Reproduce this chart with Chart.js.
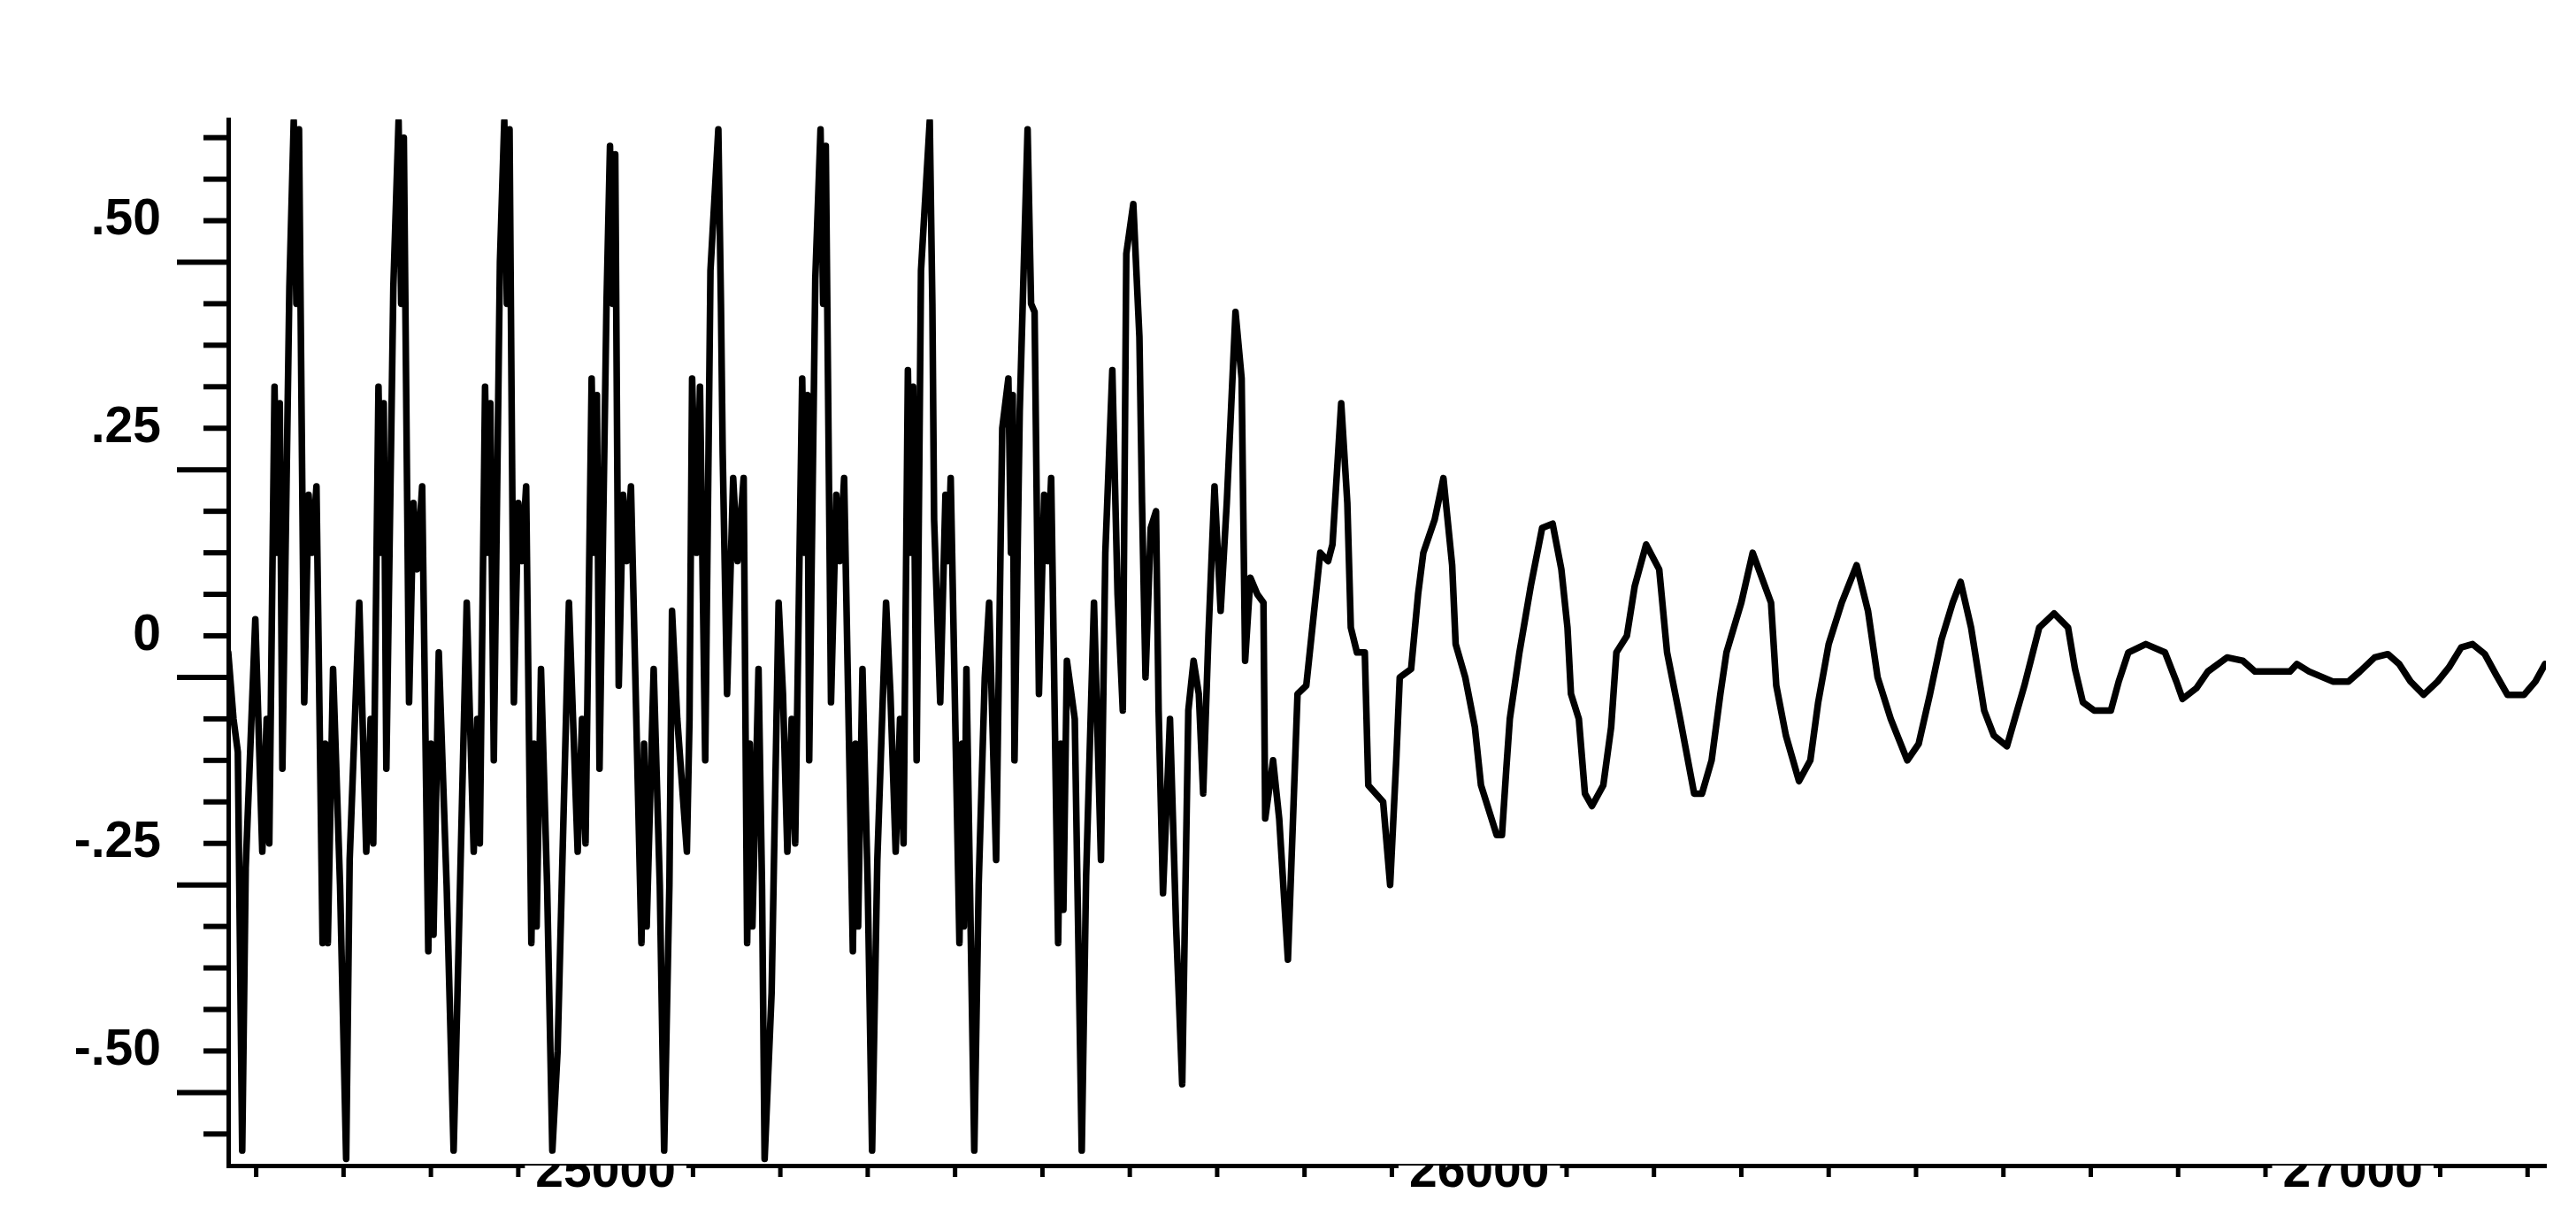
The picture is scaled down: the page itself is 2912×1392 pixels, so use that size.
<!DOCTYPE html>
<html>
<head>
<meta charset="utf-8">
<title>Waveform</title>
<script src="https://cdn.jsdelivr.net/npm/chart.js@4.4.0/dist/chart.umd.min.js"></script>
<style>
  html, body { margin: 0; padding: 0; background: #fff; }
  #wrap { width: 2912px; height: 1392px; }
</style>
</head>
<body>
<div id="wrap"><canvas id="waveChart"></canvas></div>
<script>
// Trace, split in pieces: time (x) and amplitude (y)
var earlyTime = [24568, 24574, 24579,
  24584, 24588, 24599, 24607, 24612, 24615, 24621, 24624, 24627, 24630, 24638, 24643, 24646, 24649, 24655, 24660, 24664, 24669, 24676, 24679, 24682, 24688, 24696,
  24703, 24707, 24718, 24726, 24731, 24734, 24740, 24743, 24746, 24749, 24757, 24763, 24766, 24769, 24775, 24780, 24784, 24790, 24797, 24800, 24803, 24809, 24818,
  24826, 24830, 24841, 24849, 24853, 24856, 24862, 24865, 24868, 24872, 24879, 24884, 24887, 24890, 24895, 24900, 24904, 24909, 24915, 24918, 24921, 24926, 24933,
  24939, 24945, 24958, 24968, 24973, 24977, 24984, 24987, 24990, 24993, 25001, 25005, 25008, 25011, 25015, 25020, 25024, 25029, 25041, 25044, 25047, 25055, 25062];
var earlyAmp = [0.03, -0.05, -0.09,
  -0.57, -0.23, 0.07, -0.21, -0.05, -0.20, 0.35, 0.15, 0.33, -0.11, 0.47, 0.67, 0.45, 0.66, -0.03, 0.22, 0.15, 0.23, -0.32, -0.08, -0.32, 0.01, -0.25,
  -0.58, -0.22, 0.09, -0.21, -0.05, -0.20, 0.35, 0.15, 0.33, -0.11, 0.47, 0.67, 0.45, 0.65, -0.03, 0.21, 0.13, 0.23, -0.33, -0.08, -0.31, 0.03, -0.25,
  -0.57, -0.40, 0.09, -0.21, -0.05, -0.20, 0.35, 0.15, 0.33, -0.10, 0.50, 0.67, 0.45, 0.66, -0.03, 0.21, 0.14, 0.23, -0.32, -0.08, -0.30, 0.01, -0.25,
  -0.57, -0.45, 0.09, -0.21, -0.05, -0.20, 0.36, 0.15, 0.34, -0.11, 0.45, 0.64, 0.45, 0.63, -0.01, 0.22, 0.14, 0.23, -0.32, -0.08, -0.30, 0.01, -0.25];

var midTime = [25067, 25073, 25076, 25082, 25093, 25096, 25099, 25104, 25108, 25114, 25120, 25129, 25132, 25134, 25139, 25146, 25151, 25158, 25162, 25165, 25168, 25175, 25179,
  25182, 25190, 25198, 25203, 25208, 25213, 25217, 25225, 25228, 25231, 25233, 25240, 25246, 25249, 25252, 25258, 25264, 25268, 25273, 25283, 25286, 25289, 25294, 25300,
  25305, 25311, 25321, 25326, 25332, 25337, 25341, 25346, 25349, 25352, 25356, 25361, 25371, 25374, 25376, 25383, 25389, 25392, 25395, 25405, 25408, 25410, 25413, 25417,
  25422, 25427, 25434, 25439, 25447, 25454, 25461, 25464, 25466, 25468, 25474, 25483, 25487, 25491, 25496, 25502, 25506, 25510, 25518, 25521, 25524, 25528, 25537];
var midAmp = [-0.57, -0.25, 0.08, -0.05, -0.21, -0.05, 0.36, 0.15, 0.35, -0.10, 0.49, 0.66, 0.45, 0.27, -0.02, 0.24, 0.14, 0.24, -0.32, -0.08, -0.30, 0.01, -0.25,
  -0.58, -0.38, 0.09, -0.02, -0.21, -0.05, -0.20, 0.36, 0.15, 0.34, -0.10, 0.48, 0.66, 0.45, 0.64, -0.03, 0.22, 0.14, 0.24, -0.33, -0.08, -0.30, 0.01, -0.25,
  -0.57, -0.22, 0.09, -0.02, -0.21, -0.05, -0.20, 0.37, 0.15, 0.35, -0.10, 0.49, 0.67, 0.45, 0.19, -0.03, 0.22, 0.14, 0.24, -0.32, -0.08, -0.30, 0.01, -0.25,
  -0.57, -0.25, 0.0, 0.09, -0.22, 0.30, 0.36, 0.15, 0.34, -0.10, 0.32, 0.66, 0.45, 0.44, -0.02, 0.22, 0.14, 0.24, -0.32, -0.08, -0.28, 0.02, -0.05];

var fadeTime = [25545, 25550, 25559, 25567, 25572, 25580, 25586, 25592, 25596, 25604, 25611, 25614, 25618, 25624, 25630, 25633, 25638, 25646, 25653,
  25660, 25667, 25673, 25679, 25684, 25690, 25697, 25704, 25711, 25721, 25728, 25732, 25738, 25746, 25753, 25755, 25764, 25771,
  25781, 25792, 25802, 25808, 25818, 25827, 25832, 25842, 25849, 25853, 25860, 25869, 25873, 25890];
var fadeAmp = [-0.57, -0.24, 0.09, -0.22, 0.15, 0.37, 0.10, -0.04, 0.51, 0.57, 0.41, 0.21, 0.0, 0.18, 0.20, -0.04, -0.26, -0.05, -0.30,
  -0.49, -0.04, 0.02, -0.02, -0.14, 0.05, 0.23, 0.08, 0.21, 0.44, 0.36, 0.02, 0.12, 0.10, 0.09, -0.17, -0.10, -0.17,
  -0.34, -0.02, -0.01, 0.05, 0.15, 0.14, 0.16, 0.33, 0.21, 0.06, 0.03, 0.03, -0.13, -0.15];

var decayTime = [25898, 25905, 25909, 25922, 25930, 25936, 25949, 25959, 25969, 25973, 25984, 25995, 26002, 26020, 26026, 26031, 26035, 26046, 26059, 26072,
  26084, 26094, 26101, 26105, 26114, 26121, 26129, 26142, 26151, 26157, 26169, 26178, 26191, 26206, 26215, 26230, 26246, 26255, 26266, 26276,
  26283, 26300, 26313, 26334, 26340, 26351, 26366, 26379, 26388, 26400, 26415, 26432, 26445, 26456, 26471, 26490, 26503, 26516, 26529, 26542];
var decayAmp = [-0.25, -0.10, 0.0, 0.01, 0.10, 0.15, 0.19, 0.24, 0.135, 0.04, 0.0, -0.06, -0.13, -0.19, -0.19, -0.11, -0.05, 0.03, 0.11, 0.18,
  0.185, 0.13, 0.06, -0.02, -0.05, -0.14, -0.155, -0.13, -0.06, 0.03, 0.05, 0.11, 0.16, 0.13, 0.03, -0.05, -0.14, -0.14, -0.10, -0.02,
  0.03, 0.09, 0.15, 0.09, -0.01, -0.07, -0.125, -0.10, -0.03, 0.04, 0.09, 0.135, 0.08, 0.0, -0.05, -0.10, -0.08, -0.02, 0.045, 0.09];

var tailTime = [26551, 26563, 26578, 26589, 26604, 26613, 26624, 26641, 26658, 26674, 26682, 26691, 26704, 26723, 26732, 26743, 26763, 26785, 26798, 26805, 26821, 26834, 26856,
  26874, 26888, 26928, 26936, 26950, 26977, 26995, 27008, 27025, 27040, 27053, 27066, 27081, 27097, 27110, 27124, 27137, 27151, 27164, 27177, 27196, 27209, 27220];
var tailAmp = [0.115, 0.06, -0.04, -0.07, -0.083, -0.05, -0.01, 0.06, 0.077, 0.06, 0.01, -0.03, -0.04, -0.04, -0.005, 0.03, 0.04, 0.03, -0.005, -0.026, -0.013, 0.007, 0.024,
  0.02, 0.007, 0.007, 0.016, 0.007, -0.005, -0.005, 0.007, 0.024, 0.028, 0.016, -0.005, -0.021, -0.005, 0.012, 0.036, 0.04, 0.028, 0.003, -0.021, -0.021, -0.005, 0.016];

// Axis ticks and labels
var xTickValues = [25000, 26000, 27000];
var yTickValues = [-0.5, -0.25, 0, 0.25, 0.5];
var yTickLabels = ['-.50', '-.25', '0', '.25', '.50'];

window.onload = function () {
  renderWaveChart();
};

// Zip the time / amplitude pieces into one list of points
function buildPoints() {
  var pieces = [[earlyTime, earlyAmp], [midTime, midAmp], [fadeTime, fadeAmp], [decayTime, decayAmp], [tailTime, tailAmp]];
  var points = [];
  pieces.forEach(function (p) {
    for (var i = 0; i < Math.min(p[0].length, p[1].length); i++) {
      points.push({ x: p[0][i], y: p[1][i] });
    }
  });
  return points;
}

// Minor and major tick marks, placed through the scales
var tickMarks = {
  id: 'tickMarks',
  afterDraw: function (chart) {
    var ctx = chart.ctx;
    var x = chart.scales.x;
    var y = chart.scales.y;
    ctx.save();
    ctx.strokeStyle = '#000';
    ctx.lineWidth = 6;
    for (var i = Math.ceil(y.min / 0.05); i * 0.05 <= y.max + 1e-9; i++) {
      var py = y.getPixelForValue(i * 0.05);
      var len = (i % 5 === 0) ? 58 : 28;
      ctx.beginPath();
      ctx.moveTo(y.right - len, py);
      ctx.lineTo(y.right, py);
      ctx.stroke();
    }
    ctx.lineWidth = 5;
    for (var t = Math.ceil(x.min / 100) * 100; t <= x.max; t += 100) {
      if (t % 1000 === 0) continue;
      var px = x.getPixelForValue(t);
      ctx.beginPath();
      ctx.moveTo(px, x.top);
      ctx.lineTo(px, x.top + 13);
      ctx.stroke();
    }
    ctx.restore();
  }
};

// keep the plot box where the original has it
function fixPadding(axis) {
  axis.paddingTop = 0;
  axis.paddingBottom = 0;
  axis.paddingLeft = 0;
  axis.paddingRight = 0;
}

function renderWaveChart() {
  Chart.defaults.font.family = '"Liberation Sans", Arial, sans-serif';
  var ctx = document.getElementById('waveChart').getContext('2d');
  new Chart(ctx, {
    type: 'line',
    data: {
      datasets: [{
        data: buildPoints(),
        borderColor: '#000',
        borderWidth: 7.5,
        borderJoinStyle: 'round',
        borderCapStyle: 'round',
        pointRadius: 0,
        tension: 0,
        fill: false
      }]
    },
    options: {
      responsive: true,
      maintainAspectRatio: false,
      animation: false,
      layout: { padding: { left: 0, top: 135, right: 34, bottom: 0 } },
      plugins: { legend: { display: false }, tooltip: { enabled: false } },
      scales: {
        x: {
          type: 'linear',
          min: 24568,
          max: 27221,
          afterFit: function (axis) { axis.height = 74; fixPadding(axis); },
          afterBuildTicks: function (axis) {
            axis.ticks = xTickValues.map(function (v) { return { value: v }; });
          },
          grid: { display: false, drawTicks: false },
          border: { display: true, color: '#000', width: 5 },
          ticks: {
            color: '#000',
            padding: -20,
            maxRotation: 0,
            autoSkip: false,
            font: { size: 57, weight: 'bold', lineHeight: 1 },
            showLabelBackdrop: true,
            backdropColor: '#fff',
            backdropPadding: { left: 12, right: 12, top: 2, bottom: 2 },
            callback: function (value) { return String(value); }
          }
        },
        y: {
          type: 'linear',
          min: -0.588,
          max: 0.672,
          afterFit: function (axis) { axis.width = 258; fixPadding(axis); },
          afterBuildTicks: function (axis) {
            axis.ticks = yTickValues.map(function (v) { return { value: v }; });
          },
          grid: { display: false, drawTicks: false },
          border: { display: true, color: '#000', width: 5 },
          ticks: {
            color: '#000',
            padding: 76,
            labelOffset: -47,
            autoSkip: false,
            font: { size: 57, weight: 'bold', lineHeight: 1 },
            callback: function (value, index) { return yTickLabels[index]; }
          }
        }
      }
    },
    plugins: [tickMarks]
  });
}
</script>
</body>
</html>
